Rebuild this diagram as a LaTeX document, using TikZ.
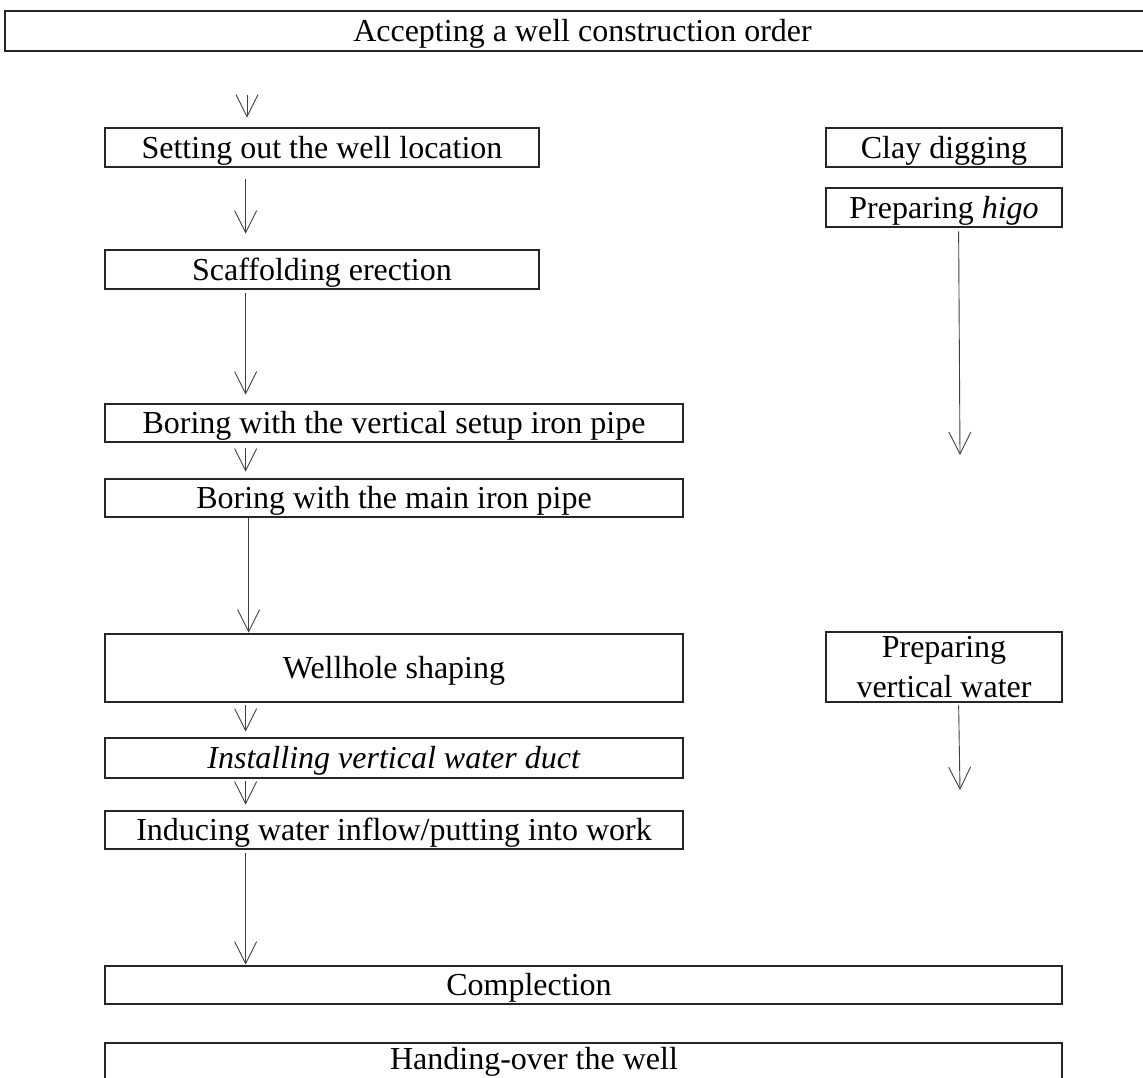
\documentclass[tikz,border=0pt]{standalone}
\usepackage{fontspec}
\setmainfont{Liberation Serif}
\usetikzlibrary{arrows.meta}
\begin{document}
\begin{tikzpicture}[x=1pt,y=-1pt,
  box/.style={draw=black!85, line width=2.8pt, inner sep=0pt, align=center,
    font=\fontsize{32}{40}\selectfont},
  oneline/.style={text height=28pt, text depth=7pt},
  flow/.style={draw=black!75, line width=0.9pt,
    -{Straight Barb[length=22pt,width=22pt,line width=0.9pt]}}]
\useasboundingbox (0,0) rectangle (1143,1077);
% boxes
\node[box, oneline, minimum width=1155pt, minimum height=40pt] (accept) at (582.5,31) {Accepting a well construction order};
\node[box, oneline, minimum width=434pt, minimum height=39pt] (setting) at (322,147.5) {Setting out the well location};
\node[box, oneline, minimum width=236pt, minimum height=39pt] (clay) at (944,147.5) {Clay digging};
\node[box, oneline, minimum width=236pt, minimum height=39pt] (higo) at (944,207.5) {Preparing \textit{higo}};
\node[box, oneline, minimum width=434pt, minimum height=39pt] (scaff) at (322,269.5) {Scaffolding erection};
\node[box, oneline, minimum width=578pt, minimum height=38pt] (boringv) at (394,423) {Boring with the vertical setup iron pipe};
\node[box, oneline, minimum width=578pt, minimum height=38pt] (boringm) at (394,498) {Boring with the main iron pipe};
\node[box, oneline, minimum width=578pt, minimum height=68pt] (wellhole) at (394,668) {Wellhole shaping};
\node[box, minimum width=236pt, minimum height=70pt] (prepvw) at (944,667) {Preparing\\vertical water};
\node[box, oneline, minimum width=578pt, minimum height=40pt] (install) at (394,758) {\textit{Installing vertical water duct}};
\node[box, oneline, minimum width=578pt, minimum height=38pt] (induce) at (394,830) {Inducing water inflow/putting into work};
\node[box, oneline, minimum width=957pt, minimum height=38pt] (compl) at (583.5,985) {\hspace*{-109pt}Complection};
\node[box, minimum width=957pt, minimum height=38pt] (hand) at (583.5,1062) {\hspace*{-99pt}Handing-over the well};
% free ends
\coordinate (s1) at (247,95);
\coordinate (e1) at (960,455);
\coordinate (e2) at (960,790);
% connectors
\draw[flow, shorten >=9pt] (s1) -- (s1 |- setting.north);
\draw[flow, shorten <=11pt, shorten >=15pt] ([xshift=142pt]setting.south west) -- ([xshift=142pt]scaff.north west);
\draw[flow, shorten <=3pt, shorten >=8pt] ([xshift=142pt]scaff.south west) -- ([xshift=142pt]boringv.north west);
\draw[flow, shorten <=5pt, shorten >=6pt] ([xshift=142pt]boringv.south west) -- ([xshift=142pt]boringm.north west);
\draw[flow] ([xshift=145pt]boringm.south west) -- ([xshift=145pt]wellhole.north west);
\draw[flow, shorten <=2pt, shorten >=5pt] ([xshift=142pt]wellhole.south west) -- ([xshift=142pt]install.north west);
\draw[flow, shorten <=2pt, shorten >=5pt] ([xshift=142pt]install.south west) -- ([xshift=142pt]induce.north west);
\draw[flow, shorten <=3pt] ([xshift=142pt]induce.south west) -- ([xshift=142pt]compl.north west);
\draw[flow, shorten <=3pt] ([xshift=134pt]higo.south west) -- (e1);
\draw[flow, shorten <=2pt] ([xshift=134pt]prepvw.south west) -- (e2);
\end{tikzpicture}
\end{document}
